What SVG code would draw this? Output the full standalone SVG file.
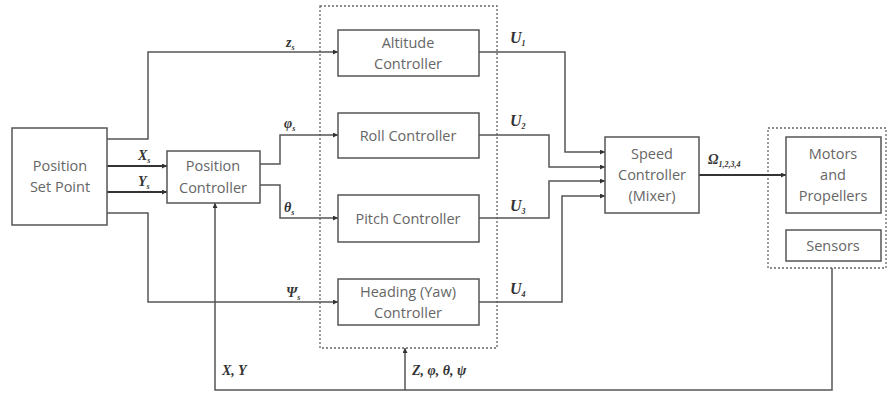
<svg xmlns="http://www.w3.org/2000/svg" width="888" height="396" viewBox="0 0 888 396">
<style>
.box{fill:#fff;stroke:#555;stroke-width:1.5}
.lbl{font-family:"Open Sans","Liberation Sans",sans-serif;font-size:14.5px;fill:#666;text-anchor:middle}
.ln{fill:none;stroke:#555;stroke-width:1.5}
.thick{fill:none;stroke:#333;stroke-width:2.2}
.dash{fill:none;stroke:#666;stroke-width:1.3;stroke-dasharray:2,2}
.m{font-family:"Liberation Serif",serif;font-style:italic;font-weight:bold;font-size:14px;fill:#333}
.u{font-size:16px}
.s{font-size:8px}
</style>
<defs>
<marker id="ar" viewBox="0 0 6 6" refX="6" refY="3" markerWidth="5" markerHeight="5" orient="auto" markerUnits="userSpaceOnUse">
<path d="M0,0 L6,3 L0,6 z" fill="#333"/>
</marker>
</defs>
<g id="groups">
<rect class="dash" x="320" y="6" width="177" height="342"/>
<rect class="dash" x="768" y="128" width="118" height="140"/>
</g>
<g id="connectors">
<polyline class="ln" points="107,139 148,139 148,52 338,52" marker-end="url(#ar)"/>
<polyline class="thick" points="107,166 167,166" marker-end="url(#ar)"/>
<polyline class="thick" points="107,192 167,192" marker-end="url(#ar)"/>
<polyline class="ln" points="107,213 148,213 148,302 338,302" marker-end="url(#ar)"/>
<polyline class="ln" points="260,164 280,164 280,135 338,135" marker-end="url(#ar)"/>
<polyline class="ln" points="260,185 280,185 280,218 338,218" marker-end="url(#ar)"/>
<polyline class="ln" points="479,52 565,52 565,152 605,152" marker-end="url(#ar)"/>
<polyline class="ln" points="479,135 549,135 549,167 605,167" marker-end="url(#ar)"/>
<polyline class="ln" points="479,218 549,218 549,181 605,181" marker-end="url(#ar)"/>
<polyline class="ln" points="479,302 562,302 562,196 605,196" marker-end="url(#ar)"/>
<polyline class="thick" points="699,175 786,175" marker-end="url(#ar)"/>
<polyline class="ln" points="832,268 832,390 215,390 215,203" marker-end="url(#ar)"/>
<polyline class="ln" points="405,390 405,348" marker-end="url(#ar)"/>
</g>
<g id="labels">
<text class="m" x="286" y="47">z<tspan class="s" dy="3">s</tspan></text>
<text class="m" x="284" y="128">φ<tspan class="s" dy="3">s</tspan></text>
<text class="m" x="284" y="212">θ<tspan class="s" dy="3">s</tspan></text>
<text class="m" x="286" y="297">Ψ<tspan class="s" dy="3">s</tspan></text>
<text class="m" x="138" y="160">X<tspan class="s" dy="3">s</tspan></text>
<text class="m" x="138" y="186">Y<tspan class="s" dy="3">s</tspan></text>
<text class="m u" x="510" y="43">U<tspan class="s" dy="3">1</tspan></text>
<text class="m u" x="510" y="126">U<tspan class="s" dy="3">2</tspan></text>
<text class="m u" x="510" y="211">U<tspan class="s" dy="3">3</tspan></text>
<text class="m u" x="510" y="294">U<tspan class="s" dy="3">4</tspan></text>
<text class="m" x="708" y="164">Ω<tspan class="s" dy="3">1,2,3,4</tspan></text>
<text class="m" x="222" y="375">X, Y</text>
<text class="m" x="412" y="375">Z, φ, θ, ψ</text>
</g>
<g id="setpoint">
<rect class="box" x="12" y="128" width="95" height="97"/>
<text class="lbl" x="60" y="171">Position</text>
<text class="lbl" x="60" y="192">Set Point</text>
</g>
<g id="poscontroller">
<rect class="box" x="167" y="151" width="93" height="52"/>
<text class="lbl" x="213" y="171">Position</text>
<text class="lbl" x="213" y="193">Controller</text>
</g>
<g id="altitude">
<rect class="box" x="338" y="30" width="141" height="46"/>
<text class="lbl" x="408" y="48">Altitude</text>
<text class="lbl" x="408" y="69">Controller</text>
</g>
<g id="roll">
<rect class="box" x="338" y="113" width="141" height="45"/>
<text class="lbl" x="408" y="141">Roll Controller</text>
</g>
<g id="pitch">
<rect class="box" x="338" y="195" width="141" height="47"/>
<text class="lbl" x="408" y="224">Pitch Controller</text>
</g>
<g id="heading">
<rect class="box" x="338" y="279" width="141" height="46"/>
<text class="lbl" x="408" y="297">Heading (Yaw)</text>
<text class="lbl" x="408" y="318">Controller</text>
</g>
<g id="speed">
<rect class="box" x="605" y="137" width="94" height="76"/>
<text class="lbl" x="652" y="159">Speed</text>
<text class="lbl" x="652" y="180">Controller</text>
<text class="lbl" x="652" y="201">(Mixer)</text>
</g>
<g id="motors">
<rect class="box" x="786" y="137" width="95" height="76"/>
<text class="lbl" x="833" y="159">Motors</text>
<text class="lbl" x="833" y="180">and</text>
<text class="lbl" x="833" y="201">Propellers</text>
</g>
<g id="sensors">
<rect class="box" x="786" y="230" width="95" height="31"/>
<text class="lbl" x="833" y="251">Sensors</text>
</g>
</svg>
